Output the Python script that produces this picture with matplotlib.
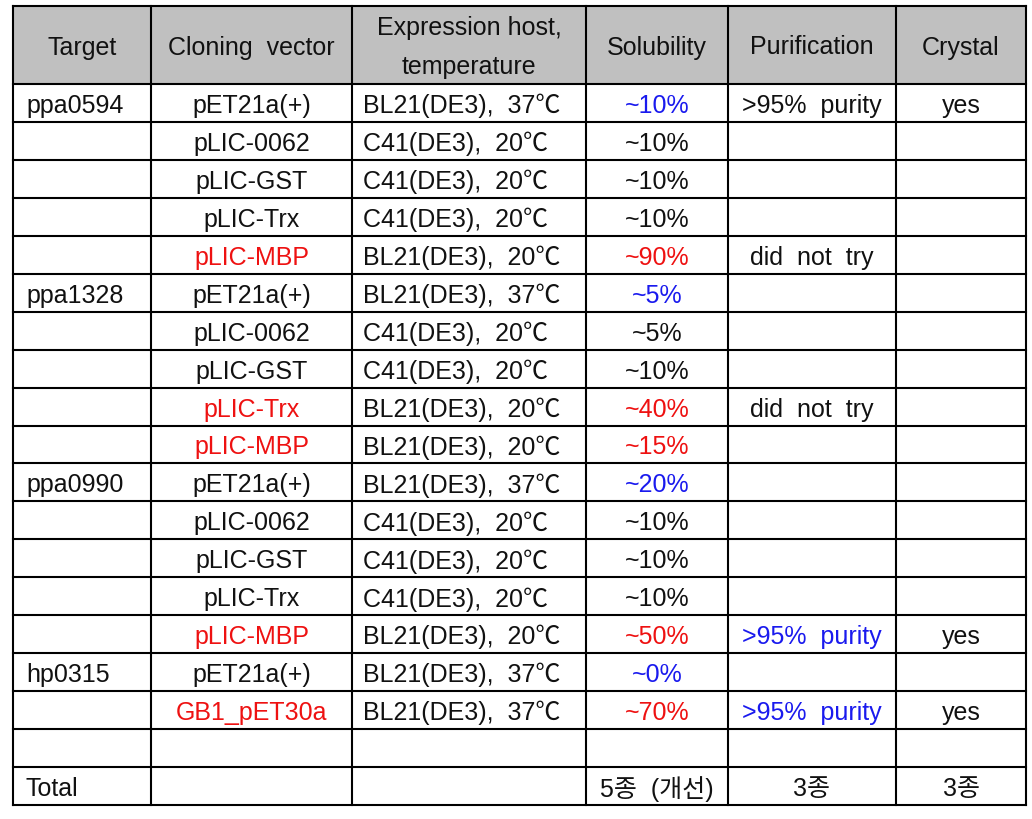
import matplotlib
matplotlib.use("Agg")
import matplotlib.pyplot as plt
from matplotlib.patches import Rectangle

# ---- data ----
headers = ["Target", "Cloning  vector", "Expression host,\ntemperature",
           "Solubility", "Purification", "Crystal"]
targets = ["ppa0594", "", "", "", "",
           "ppa1328", "", "", "", "",
           "ppa0990", "", "", "", "",
           "hp0315", "", "", "Total"]
vectors = ["pET21a(+)", "pLIC-0062", "pLIC-GST", "pLIC-Trx", "pLIC-MBP",
           "pET21a(+)", "pLIC-0062", "pLIC-GST", "pLIC-Trx", "pLIC-MBP",
           "pET21a(+)", "pLIC-0062", "pLIC-GST", "pLIC-Trx", "pLIC-MBP",
           "pET21a(+)", "GB1_pET30a", "", ""]
vector_colors = ["k", "k", "k", "k", "r",
                 "k", "k", "k", "r", "r",
                 "k", "k", "k", "k", "r",
                 "k", "r", "k", "k"]
hosts = ["BL21(DE3),  37℃", "C41(DE3),  20℃", "C41(DE3),  20℃", "C41(DE3),  20℃", "BL21(DE3),  20℃",
         "BL21(DE3),  37℃", "C41(DE3),  20℃", "C41(DE3),  20℃", "BL21(DE3),  20℃", "BL21(DE3),  20℃",
         "BL21(DE3),  37℃", "C41(DE3),  20℃", "C41(DE3),  20℃", "C41(DE3),  20℃", "BL21(DE3),  20℃",
         "BL21(DE3),  37℃", "BL21(DE3),  37℃", "", ""]
solubility = ["~10%", "~10%", "~10%", "~10%", "~90%",
              "~5%", "~5%", "~10%", "~40%", "~15%",
              "~20%", "~10%", "~10%", "~10%", "~50%",
              "~0%", "~70%", "", "5종  (개선)"]
solubility_colors = ["b", "k", "k", "k", "r",
                     "b", "k", "k", "r", "r",
                     "b", "k", "k", "k", "r",
                     "b", "r", "k", "k"]
purification = [">95%  purity", "", "", "", "did  not  try",
                "", "", "", "did  not  try", "",
                "", "", "", "", ">95%  purity",
                "", ">95%  purity", "", "3종"]
purification_colors = ["k", "k", "k", "k", "k",
                       "k", "k", "k", "k", "k",
                       "k", "k", "k", "k", "b",
                       "k", "b", "k", "k"]
crystal = ["yes", "", "", "", "",
           "", "", "", "", "",
           "", "", "", "", "yes",
           "", "yes", "", "3종"]

# ---- layout ----
COLMAP = {"k": "#111111", "r": "#ee1111", "b": "#1a1aee"}
col_x = [13, 151, 352, 586, 728, 896, 1026]
top, header_bottom, bottom = 7, 85, 806
nrows = len(targets)
row_h = (bottom - header_bottom) / nrows
FAM = ["Liberation Sans", "Noto Sans CJK KR", "DejaVu Sans"]
FS = 18

fig = plt.figure(figsize=(10.32, 8.20), dpi=100)
ax = fig.add_axes([0, 0, 1, 1])
ax.set_xlim(0, 1032)
ax.set_ylim(820, 0)
ax.axis("off")

ax.add_patch(Rectangle((col_x[0], top), col_x[-1] - col_x[0], header_bottom - top,
                       facecolor="#c0c0c0", edgecolor="none", zorder=0))

lw = 1.5
ys = [top, header_bottom] + [header_bottom + (i + 1) * row_h for i in range(nrows)]
for y in ys:
    ax.plot([col_x[0], col_x[-1]], [y, y], color="black", lw=lw, solid_capstyle="projecting")
for x in col_x:
    ax.plot([x, x], [top, bottom], color="black", lw=lw, solid_capstyle="projecting")

hy = (top + header_bottom) / 2 + 1.5
for j, h in enumerate(headers):
    cx = (col_x[j] + col_x[j + 1]) / 2
    if "\n" in h:
        l1, l2 = h.split("\n")
        ax.text(cx, hy - 19.5, l1, ha="center", va="center", fontsize=FS, family=FAM, color="#111111")
        ax.text(cx, hy + 19.5, l2, ha="center", va="center", fontsize=FS, family=FAM, color="#111111")
    else:
        ax.text(cx, hy, h, ha="center", va="center", fontsize=FS, family=FAM, color="#111111")

for i in range(nrows):
    cy = header_bottom + (i + 0.5) * row_h + 2
    ax.text(col_x[0] + 13, cy, targets[i], ha="left", va="center", fontsize=FS, family=FAM,
            color=COLMAP["k"])
    ax.text((col_x[1] + col_x[2]) / 2, cy, vectors[i], ha="center", va="center", fontsize=FS,
            family=FAM, color=COLMAP[vector_colors[i]])
    ax.text(col_x[2] + 11, cy, hosts[i], ha="left", va="center", fontsize=FS, family=FAM,
            color=COLMAP["k"])
    ax.text((col_x[3] + col_x[4]) / 2, cy, solubility[i], ha="center", va="center", fontsize=FS,
            family=FAM, color=COLMAP[solubility_colors[i]])
    ax.text((col_x[4] + col_x[5]) / 2, cy, purification[i], ha="center", va="center", fontsize=FS,
            family=FAM, color=COLMAP[purification_colors[i]])
    ax.text((col_x[5] + col_x[6]) / 2, cy, crystal[i], ha="center", va="center", fontsize=FS,
            family=FAM, color=COLMAP["k"])

fig.savefig("out.png", dpi=100, facecolor="white")
